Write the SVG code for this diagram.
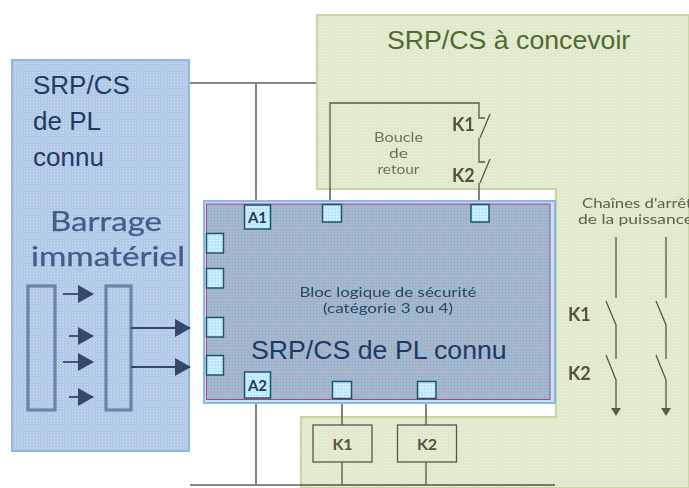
<svg xmlns="http://www.w3.org/2000/svg" width="689" height="488" viewBox="0 0 689 488">
<style>
text{font-family:"Liberation Sans",Arial,sans-serif}
.g{font-family:Lato,"Open Sans",sans-serif}
.wire{fill:none;stroke:#636363;stroke-width:1.6}
.gw{fill:none;stroke:#55584a;stroke-width:1.3}
.bar{fill:none;stroke:#6d84a8;stroke-width:3.2}
.ar{fill:none;stroke:#34466d;stroke-width:1.8}
.port{fill:url(#pp);stroke:#1c5568;stroke-width:1.5}
.lab{font-family:Lato,"Open Sans",sans-serif;font-weight:700;fill:#54533e}
.soft{filter:url(#b)}
</style>
<defs>
<pattern id="pb" width="3" height="3" patternUnits="userSpaceOnUse"><rect width="3" height="3" fill="#aec7e7"/><rect width="1" height="1" fill="#d6e3f3"/><rect x="1.5" y="1.5" width="1" height="1" fill="#c8daf0"/></pattern>
<pattern id="pg" width="3" height="3" patternUnits="userSpaceOnUse"><rect width="3" height="3" fill="#e0e8cb"/><rect width="1" height="1" fill="#f0f4e2"/><rect x="1.5" y="1.5" width="1" height="1" fill="#ebf0da"/></pattern>
<pattern id="pl" width="3" height="3" patternUnits="userSpaceOnUse"><rect width="3" height="3" fill="#bcafc2"/><rect y="1" width="3" height="1" fill="#98bbd4"/><rect x="1" width="1" height="3" fill="#98bbd4"/><rect x="1" y="1" width="1" height="1" fill="#68b8de"/></pattern>
<pattern id="pp" width="3" height="3" patternUnits="userSpaceOnUse"><rect width="3" height="3" fill="#b9e6fa"/><rect width="1.5" height="1.5" fill="#e4f6fe"/></pattern>
<filter id="b" x="-10%" y="-10%" width="120%" height="120%"><feGaussianBlur stdDeviation="0.7"/></filter>
<marker id="h" viewBox="0 0 16 18" refX="15" refY="9" markerUnits="userSpaceOnUse" markerWidth="16" markerHeight="18" orient="auto"><path d="M0 0L16 9L0 18Z" fill="#34466d"/></marker>
<marker id="d" viewBox="0 0 10 8" refX="5" refY="0" markerUnits="userSpaceOnUse" markerWidth="10" markerHeight="8" orient="0"><path d="M0 0H10L5 8Z" fill="#5a5d4c"/></marker>
</defs>

<rect width="689" height="488" fill="#fff"/>

<g id="zone-design">
<path d="M689 15H317V189H556V417H301V488H689Z" fill="url(#pg)" stroke="#c5d8a0" stroke-width="2.2"/>
<text x="387" y="49" font-size="26.700" fill="#4f6b2d">SRP/CS à concevoir</text>
</g>

<g id="zone-known">
<rect x="12" y="60" width="177" height="391" fill="url(#pb)" stroke="#92b6e2" stroke-width="2"/>
<text x="33" y="94" font-size="26" fill="#1f3a64">SRP/CS</text>
<text x="33" y="130" font-size="26" fill="#1f3a64">de PL</text>
<text x="33" y="166" font-size="26" fill="#1f3a64">connu</text>
<g class="soft">
<text x="106" y="231" font-size="27" text-anchor="middle" class="g" fill="#445b88" stroke="#445b88" stroke-width="0.25" textLength="112" lengthAdjust="spacingAndGlyphs">Barrage</text>
<text x="108" y="266" font-size="27" text-anchor="middle" class="g" fill="#445b88" stroke="#445b88" stroke-width="0.25" textLength="154" lengthAdjust="spacingAndGlyphs">immatériel</text>
</g>
</g>

<g id="connectors">
<path class="wire" d="M190 83H316M256 83V202M256 400V485M190 485H300"/>
<path class="gw" d="M300 485H555"/>
<path class="wire" d="M330 189V204M479 189V204M342 398V417M426 398V417"/>
<path class="gw" d="M330 189V103H479V118H485M480 138L490 114M479 138V162H485M480 183L490 159M479 183V189"/>
<path class="gw" d="M342 417V425M426 417V425M342 462V485M426 462V485"/>
<g class="soft">
<path class="gw" d="M616 237V298M606 301L616 325V359M606 355L616 380V408" marker-end="url(#d)"/>
<path class="gw" d="M666 237V298M656 301L666 325V359M656 355L666 380V408" marker-end="url(#d)"/>
<rect class="bar" x="28" y="286" width="27" height="124"/>
<rect class="bar" x="106" y="286" width="25" height="124"/>
<path class="ar" d="M63 294H93" marker-end="url(#h)"/>
<path class="ar" d="M69 336H93" marker-end="url(#h)"/>
<path class="ar" d="M63 362H93" marker-end="url(#h)"/>
<path class="ar" d="M69 397H93" marker-end="url(#h)"/>
<path class="ar" d="M131 328H190" marker-end="url(#h)"/>
<path class="ar" d="M131 367H190" marker-end="url(#h)"/>
</g>
</g>

<g id="logic-block">
<rect x="204" y="201" width="351" height="202" fill="#bfe4f8" stroke="#8fb6e2" stroke-width="2"/>
<rect x="206.500" y="204" width="343.500" height="195.500" fill="url(#pl)" stroke="#b0437f" stroke-width="1"/>
<g class="soft">
<text x="388" y="297" font-size="13" text-anchor="middle" class="g" fill="#2a4560" textLength="177" lengthAdjust="spacingAndGlyphs">Bloc logique de sécurité</text>
<text x="388" y="313" font-size="13" text-anchor="middle" class="g" fill="#2a4560" textLength="130" lengthAdjust="spacingAndGlyphs">(catégorie 3 ou 4)</text>
</g>
<text x="251" y="359" font-size="26.700" fill="#1f3a64">SRP/CS de PL connu</text>
</g>

<g id="port-a1"><rect class="port" x="244.500" y="205" width="26" height="24"/><text x="257.500" y="223" font-size="15" font-weight="700" text-anchor="middle" class="g" fill="#1f4058">A1</text></g>
<g id="port-a2"><rect class="port" x="244.500" y="372" width="26" height="26"/><text x="257.500" y="391" font-size="15" font-weight="700" text-anchor="middle" class="g" fill="#1f4058">A2</text></g>
<g id="port-t1"><rect class="port" x="322.500" y="204.500" width="19" height="17.500"/></g>
<g id="port-t2"><rect class="port" x="471" y="204.500" width="18" height="17.500"/></g>
<g id="port-l1"><rect class="port" x="206.500" y="233.500" width="17" height="19.500"/></g>
<g id="port-l2"><rect class="port" x="206.500" y="268.500" width="17" height="19.500"/></g>
<g id="port-l3"><rect class="port" x="206.500" y="317.500" width="17" height="19.500"/></g>
<g id="port-l4"><rect class="port" x="206.500" y="355.500" width="17" height="19.500"/></g>
<g id="port-b1"><rect class="port" x="332.500" y="381.500" width="19" height="17"/></g>
<g id="port-b2"><rect class="port" x="417.500" y="381.500" width="18.500" height="17"/></g>

<g id="relay-k1"><rect x="313" y="425" width="59" height="37" fill="url(#pg)" stroke="#55584a" stroke-width="1.3"/><text x="342.500" y="450" font-size="16" text-anchor="middle" class="lab">K1</text></g>
<g id="relay-k2"><rect x="397.500" y="425" width="59" height="37" fill="url(#pg)" stroke="#55584a" stroke-width="1.3"/><text x="427" y="450" font-size="16" text-anchor="middle" class="lab">K2</text></g>

<g id="labels" class="soft">
<text x="398.500" y="142" class="g" fill="#6f705f" font-size="13" text-anchor="middle" textLength="49" lengthAdjust="spacingAndGlyphs">Boucle</text>
<text x="398.500" y="158" class="g" fill="#6f705f" font-size="13" text-anchor="middle" textLength="19" lengthAdjust="spacingAndGlyphs">de</text>
<text x="398.500" y="174" class="g" fill="#6f705f" font-size="13" text-anchor="middle" textLength="42" lengthAdjust="spacingAndGlyphs">retour</text>
<text x="452" y="131" font-size="18" class="lab">K1</text>
<text x="452" y="182" font-size="18" class="lab">K2</text>
<text x="582" y="208" font-size="13.500" class="g" fill="#5f604f" textLength="110" lengthAdjust="spacingAndGlyphs">Chaînes d'arrêt</text>
<text x="578" y="224" font-size="13.500" class="g" fill="#5f604f" textLength="115" lengthAdjust="spacingAndGlyphs">de la puissance</text>
<text x="568" y="321" font-size="18" class="lab">K1</text>
<text x="568" y="380" font-size="18" class="lab">K2</text>
</g>
</svg>
